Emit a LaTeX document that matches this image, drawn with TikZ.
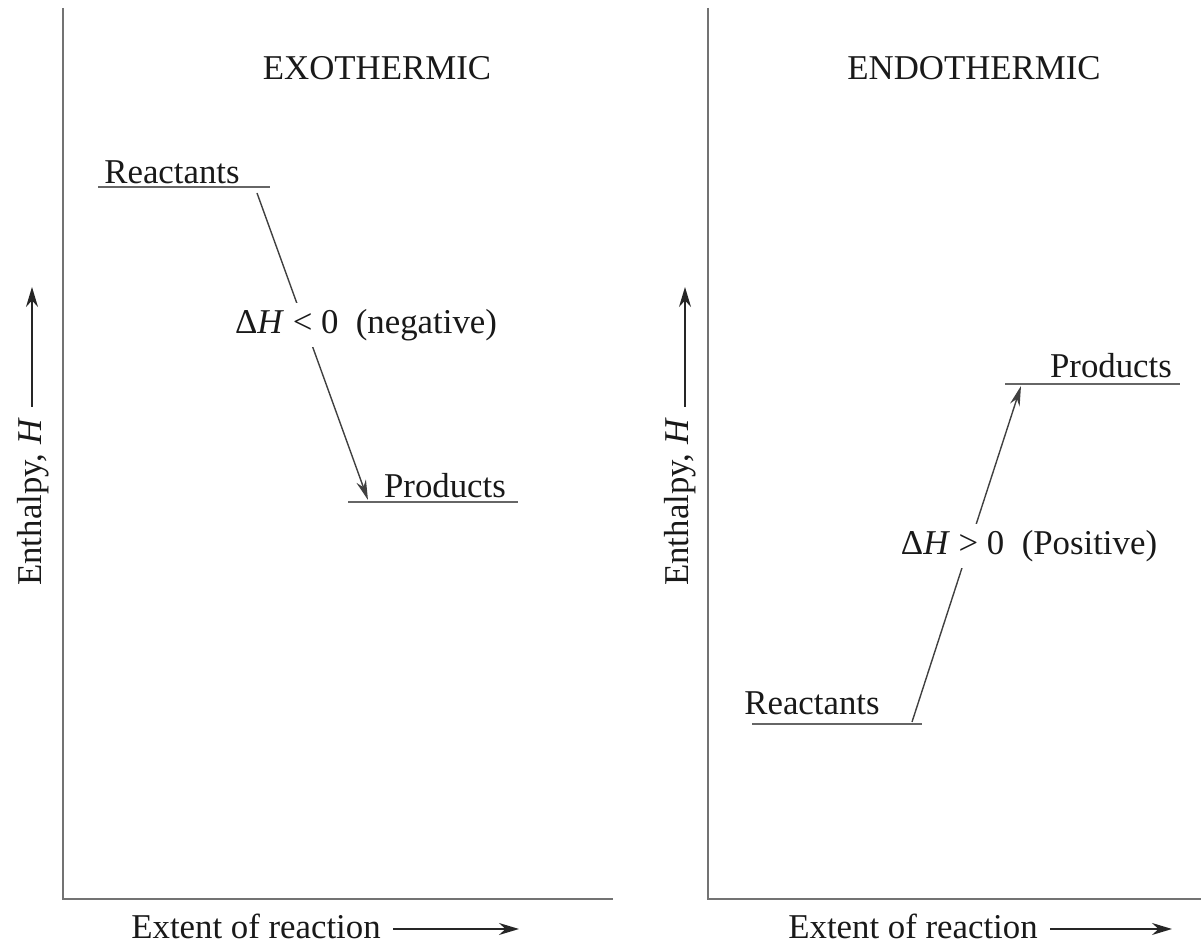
\documentclass[tikz,border=0pt]{standalone}
\usepackage{fontspec}
\setmainfont{Liberation Serif}
\usetikzlibrary{arrows.meta}
\begin{document}
\begin{tikzpicture}[x=0.5pt,y=-0.5pt,
  axisline/.style={draw=black!55, line width=1pt},
  levelline/.style={draw=black!60, line width=0.9pt},
  lbl/.style={font=\fontsize{17.4}{20}\selectfont, inner sep=1pt, text=black!90},
  dlbl/.style={lbl, fill=white, inner sep=3pt},
  tiparrow/.style={-{Stealth[length=10pt,width=5pt]}, draw=black!75, line width=0.7pt},
  axarrow/.style={-{Stealth[length=10pt,width=6pt]}, draw=black!85, line width=0.8pt},
]
\path[use as bounding box] (0,0) rectangle (1201,945);

% ---------- left panel ----------
\coordinate (lTop) at (63,8);
\coordinate (lOrig) at (63,899);
\coordinate (lRight) at (613,899);
\draw[axisline] (lTop) -- (lOrig) -- (lRight);

\node[lbl] (exo) at (377,68) {EXOTHERMIC};

\coordinate (lr1) at (98,187);
\coordinate (lr2) at (270,187);
\draw[levelline] (lr1) -- (lr2);
\node[lbl] (lreact) at (172,172) {Reactants};

\coordinate (lp1) at (348,502);
\coordinate (lp2) at (518,502);
\draw[levelline] (lp1) -- (lp2);
\node[lbl] (lprod) at (445,486) {Products};

\coordinate (la1) at (257,193);
\coordinate (la2) at (368,500);
\draw[tiparrow] (la1) -- (la2);
\node[dlbl] (ldh) at (366,325) {Δ\textit{H} < 0\enspace(negative)};

\node[lbl, rotate=90] (lenth) at (33,502) {Enthalpy, \textit{H}};
\coordinate (lea1) at (32,407);
\coordinate (lea2) at (32,287);
\draw[axarrow] (lea1) -- (lea2);

\node[lbl] (lext) at (256,926) {Extent of reaction};
\coordinate (lxa1) at (393,929);
\coordinate (lxa2) at (519,929);
\draw[axarrow] (lxa1) -- (lxa2);

% ---------- right panel ----------
\coordinate (rTop) at (708,8);
\coordinate (rOrig) at (708,899);
\coordinate (rRight) at (1201,899);
\draw[axisline] (rTop) -- (rOrig) -- (rRight);

\node[lbl] (endo) at (974,68) {ENDOTHERMIC};

\coordinate (rp1) at (1005,384);
\coordinate (rp2) at (1180,384);
\draw[levelline] (rp1) -- (rp2);
\node[lbl] (rprod) at (1111,366) {Products};

\coordinate (rr1) at (752,724);
\coordinate (rr2) at (922,724);
\draw[levelline] (rr1) -- (rr2);
\node[lbl] (rreact) at (812,703) {Reactants};

\coordinate (ra1) at (912,722);
\coordinate (ra2) at (1021,386);
\draw[tiparrow] (ra1) -- (ra2);
\node[dlbl] (rdh) at (1029,546) {Δ\textit{H} > 0\enspace(Positive)};

\node[lbl, rotate=90] (renth) at (680,502) {Enthalpy, \textit{H}};
\coordinate (rea1) at (685,407);
\coordinate (rea2) at (685,287);
\draw[axarrow] (rea1) -- (rea2);

\node[lbl] (rext) at (913,926) {Extent of reaction};
\coordinate (rxa1) at (1050,929);
\coordinate (rxa2) at (1172,929);
\draw[axarrow] (rxa1) -- (rxa2);
\end{tikzpicture}
\end{document}
